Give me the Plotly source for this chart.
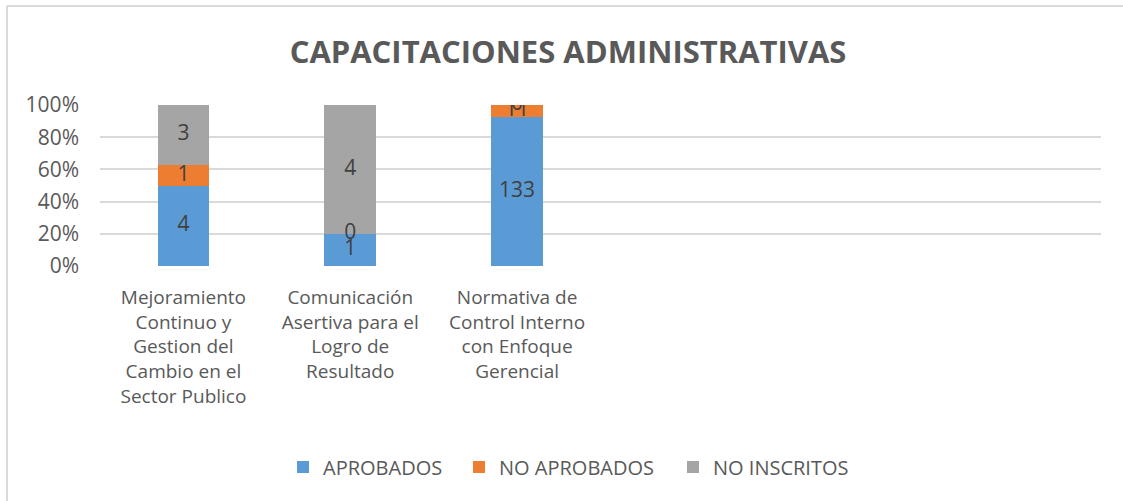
import plotly.graph_objects as go

categories = [
    "Mejoramiento<br>Continuo y<br>Gestion del<br>Cambio en el<br>Sector Publico",
    "Comunicación<br>Asertiva para el<br>Logro de<br>Resultado",
    "Normativa de<br>Control Interno<br>con Enfoque<br>Gerencial",
]
n_slots = 6  # the axis has room for six categories; the last three are empty
aprobados = [4, 1, 133]
no_aprobados = [1, 0, 11]
no_inscritos = [3, 4, 0]
y_ticks = [0, 20, 40, 60, 80, 100]
y_tick_text = ["0%", "20%", "40%", "60%", "80%", "100%"]

series = [
    ("APROBADOS", aprobados, "#5B9BD5"),
    ("NO APROBADOS", no_aprobados, "#ED7D31"),
    ("NO INSCRITOS", no_inscritos, "#A5A5A5"),
]

FONT = "Open Sans"
xs = list(range(len(categories)))
L, T, PW, PH = 100, 105, 1001, 161
W, H = 1123, 501
legend_ids = ["legend", "legend2", "legend3"]
legend_left_px = [283, 459, 673]

fig = go.Figure()
for (name, vals, col), lid in zip(series, legend_ids):
    fig.add_trace(go.Bar(x=xs, y=vals, name=name, marker=dict(color=col, line=dict(width=0)),
                         width=0.31, hoverinfo="skip", legend=lid))

# data labels at segment midpoints (in percent)
lx, ly, lt = [], [], []
for i in xs:
    total = sum(s[1][i] for s in series)
    base = 0.0
    for name, vals, col in series:
        pct = vals[i] / total * 100
        lx.append(i)
        ly.append(base + pct / 2)
        lt.append(str(vals[i]))
        base += pct
fig.add_trace(go.Scatter(x=lx, y=ly, text=lt, mode="text", showlegend=False,
                         textfont=dict(family=FONT, size=21, color="#404040"),
                         hoverinfo="skip"))

legend_common = dict(orientation="h", xanchor="left", y=-(467 - (T + PH)) / PH, yanchor="middle",
                     font=dict(family=FONT, size=20, color="#595959"), itemwidth=30,
                     bgcolor="rgba(0,0,0,0)")
legends = {}
for lid, px in zip(legend_ids, legend_left_px):
    legends[lid] = dict(legend_common, x=(px - L) / PW)

fig.update_layout(
    barmode="stack",
    barnorm="percent",
    width=W, height=H,
    margin=dict(l=L, r=W - L - PW, t=T, b=H - T - PH, autoexpand=False),
    paper_bgcolor="white", plot_bgcolor="white",
    font=dict(family=FONT, size=19, color="#595959"),
    title=dict(text="<b>CAPACITACIONES ADMINISTRATIVAS</b>", x=568 / W, xanchor="center",
               y=1 - 52 / H, yanchor="middle",
               font=dict(family=FONT, size=31, color="#595959")),
    xaxis=dict(range=[-0.5, n_slots - 0.5], tickvals=xs, ticktext=categories,
               showgrid=False, zeroline=False, showline=False, ticks="",
               ticklabelstandoff=18,
               tickfont=dict(family=FONT, size=19, color="#595959"), tickangle=0),
    yaxis=dict(range=[0, 100], tickvals=y_ticks, ticktext=y_tick_text,
               showgrid=True, gridcolor="#D9D9D9", gridwidth=1.5, zeroline=False,
               showline=False, ticks="", ticklabelstandoff=20,
               tickfont=dict(family=FONT, size=21, color="#595959")),
    shapes=[
        dict(type="line", xref="paper", yref="paper",
             x0=(7 - L) / PW, x1=(W + 5 - L) / PW, y0=1 + (T - 6) / PH, y1=1 + (T - 6) / PH,
             line=dict(color="#D9D9D9", width=2)),
        dict(type="line", xref="paper", yref="paper",
             x0=(7 - L) / PW, x1=(7 - L) / PW, y0=1 + (T - 6) / PH, y1=-(H + 5 - T - PH) / PH,
             line=dict(color="#D9D9D9", width=2)),
    ],
    **legends,
)

fig.write_html("out.html", config={"displayModeBar": False},
               post_script="document.body.style.margin='0';document.body.style.padding='0';")
